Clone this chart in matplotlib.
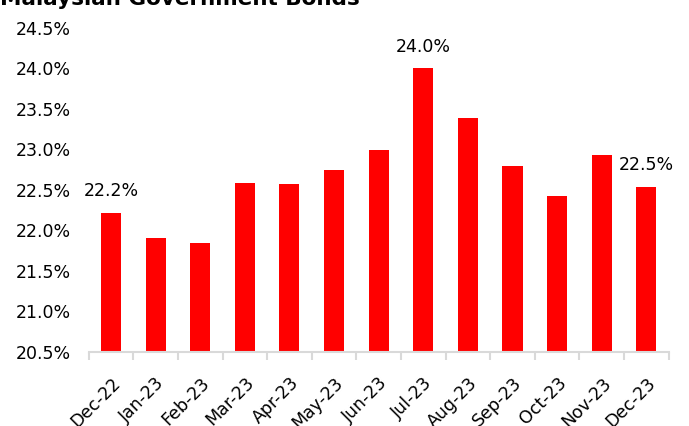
import numpy as np
import matplotlib
matplotlib.use("Agg")
import matplotlib.pyplot as plt
from matplotlib.ticker import FuncFormatter

months = ["Dec-22", "Jan-23", "Feb-23", "Mar-23", "Apr-23", "May-23", "Jun-23",
          "Jul-23", "Aug-23", "Sep-23", "Oct-23", "Nov-23", "Dec-23"]
share = [22.22, 21.90, 21.84, 22.59, 22.57, 22.75, 22.99,
         24.00, 23.39, 22.79, 22.43, 22.93, 22.54]
labelled = ["Dec-22", "Jul-23", "Dec-23"]

plt.rcParams["font.family"] = "DejaVu Sans"

fig = plt.figure(figsize=(6.89, 4.26), dpi=100)
ax = fig.add_axes([0.1287, 0.1744, 0.8418, 0.7599])

x = np.arange(len(months))
ax.bar(x, share, width=0.45, bottom=0, color="#FF0000", edgecolor="none")
ax.set_ylim(20.5, 24.5)
ax.set_xlim(-0.5, len(months) - 0.5)

for i, (m, v) in enumerate(zip(months, share)):
    if m in labelled:
        ax.annotate(f"{v:.1f}%", (i, v), xytext=(0, 9), textcoords="offset points",
                    ha="center", va="bottom", fontsize=12.5, color="#000000")

ax.yaxis.set_major_formatter(FuncFormatter(lambda v, _: f"{v:.1f}%"))
ax.set_yticks(np.arange(20.5, 24.51, 0.5))
ax.tick_params(axis="y", length=0, labelsize=12.5, pad=13)

ax.set_xticks(x)
ax.set_xticklabels(months, rotation=45, ha="right", rotation_mode="anchor", fontsize=12.5)
ax.set_xticks(np.arange(-0.5, len(months), 1), minor=True)
ax.tick_params(axis="x", which="major", length=0, pad=16)
ax.tick_params(axis="x", which="minor", length=6, width=1.5, color="#D9D9D9")

for s in ["top", "right", "left"]:
    ax.spines[s].set_visible(False)
ax.spines["bottom"].set_color("#D9D9D9")
ax.spines["bottom"].set_linewidth(1.5)

fig.text(0.0, 1 - 5 / 426, "Malaysian Government Bonds", fontsize=15.5, fontweight="bold",
         ha="left", va="baseline")

fig.savefig("out.png", dpi=100)
